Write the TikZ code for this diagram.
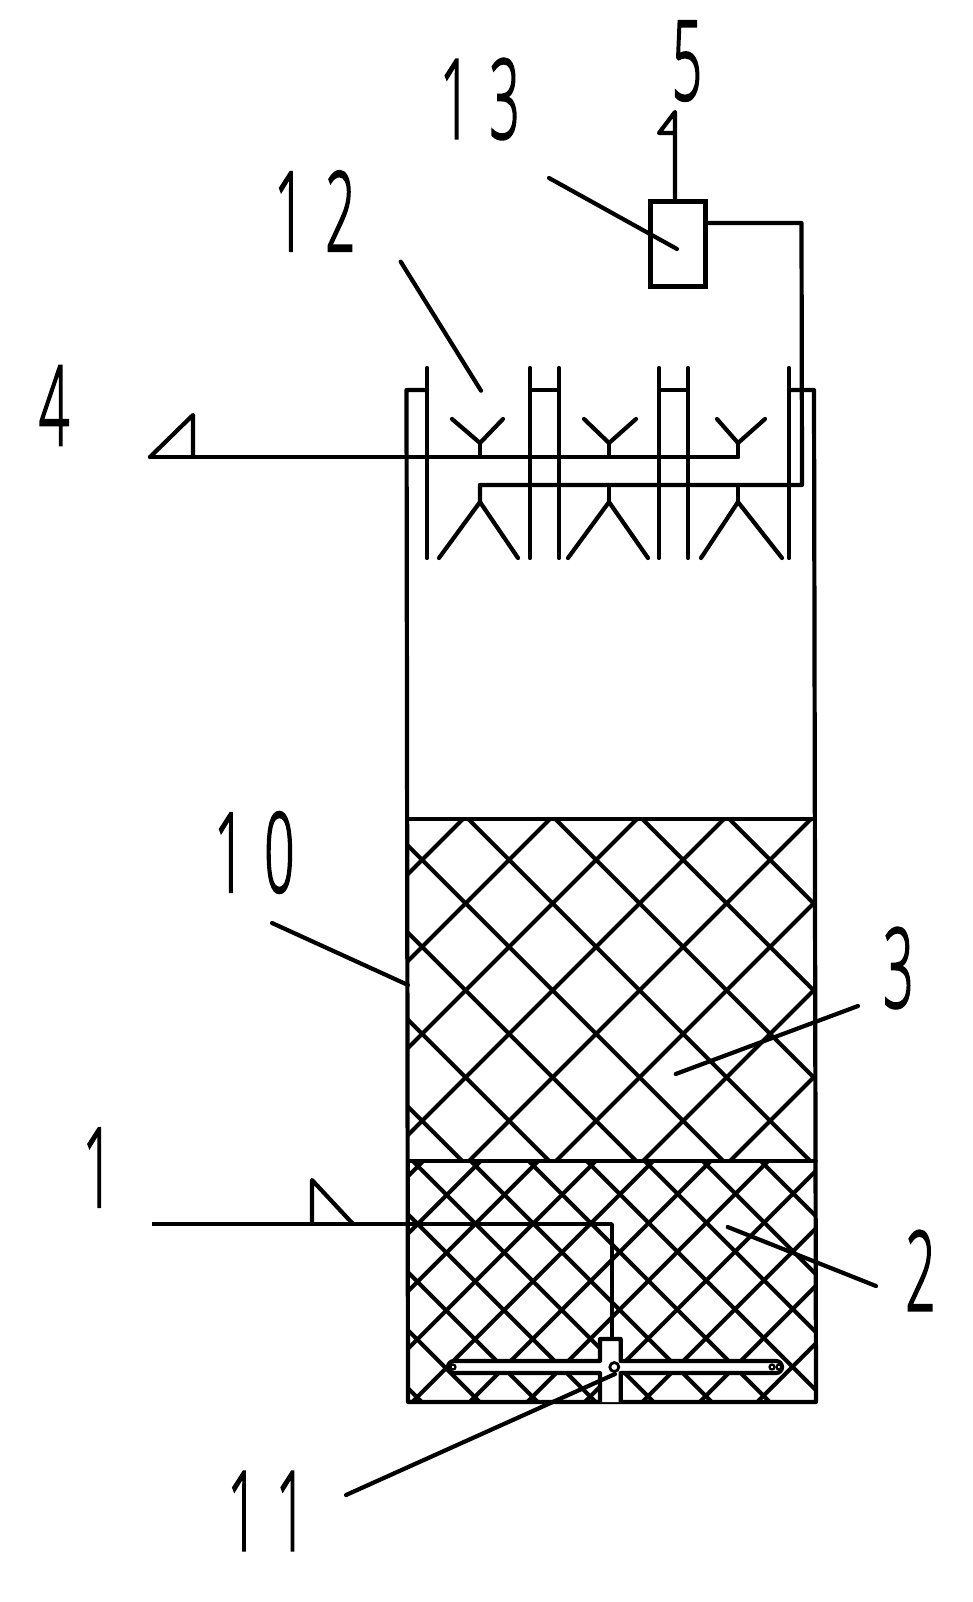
\documentclass[tikz,border=0pt]{standalone}
\usepackage{fontspec}
\newfontfamily\lab[RawFeature={embolden=2.5}]{Open Sans Light}
\begin{document}
\begin{tikzpicture}[x=1pt,y=-1pt,
  pipe/.style={line width=4.2pt,line join=round,line cap=round,black},
  thin pipe/.style={line width=3.6pt,line join=round,black},
  hatch/.style={line width=4pt,black},
  digit/.style={inner sep=0pt,outer sep=0pt,font=\lab\fontsize{110}{110}\selectfont,xscale=0.48,black},
  unit/.style={draw=black,line width=4.2pt,fill=white,minimum width=55pt,minimum height=85pt,inner sep=0pt}]
\useasboundingbox (0,0) rectangle (973,1602);
\fill[white] (0,0) rectangle (973,1602);
% packing
\begin{scope}
 \clip (407,819) rectangle (814.5,1161);
 \foreach \k in {-5,...,4}{\pgfmathsetmacro{\c}{-350.7+87*\k}
   \draw[hatch] (819+\c,819) -- (1161+\c,1161);}
 \foreach \k in {-2,...,7}{\pgfmathsetmacro{\c}{1369+87*\k}
   \draw[hatch] (\c-819,819) -- (\c-1161,1161);}
\end{scope}
\begin{scope}
 \clip (408,1161) rectangle (816,1402);
 \foreach \k in {-5,...,7}{\pgfmathsetmacro{\c}{-748.3+58*\k}
   \draw[hatch] (1161+\c,1161) -- (1402+\c,1402);}
 \foreach \k in {-2,...,10}{\pgfmathsetmacro{\c}{1641.7+57.5*\k}
   \draw[hatch] (\c-1161,1161) -- (\c-1402,1402);}
\end{scope}
% vessel
\draw[pipe] (427,390) -- (406.5,390) -- (408,1402) -- (816,1402) -- (814,390) -- (789,390);
\draw[pipe] (407,819) -- (814.5,819);
\draw[pipe] (408,1161) -- (815.5,1161);
% baffles
\foreach \x in {427,530,559,659,688,789}{\draw[pipe] (\x,368) -- (\x,558);}
\draw[pipe] (530,390) -- (559,390);
\draw[pipe] (659,390) -- (688,390);
% unit 13
\node[unit] (u13) at (678,244) {};
\coordinate (u13top) at (675,201.7);
\coordinate (u13flag) at (675,112);
\coordinate (u13r) at (705,223);
\draw[pipe] (u13top) -- (u13flag) -- (659,133) -- (675,133);
% spray pipe
\draw[pipe] (u13r) -- (801.5,223) -- (802,485) -- (480,485) -- (480,502);
\foreach \x/\l/\r in {480/439/518,609/568/648,738/701/782}{
  \draw[pipe] (\l,558) -- (\x,502) -- (\r,558);
  \draw[pipe] (\x,485) -- (\x,502);}
% collecting pipe
\draw[pipe] (150,457) -- (738,457);
\foreach \x/\l/\r in {480/452/503,609/584/636,738/717/765}{
  \draw[pipe] (\l,419) -- (\x,443) -- (\r,419);
  \draw[pipe] (\x,443) -- (\x,457);}
\draw[pipe] (150,457) -- (193,415) -- (193,457);
% inlet
\draw[thin pipe] (152,1224) -- (612,1224) -- (612,1340);
\draw[pipe] (312,1224) -- (312,1180) -- (353,1224);
% distributor
\draw[pipe,fill=white,line cap=butt] (600,1402) -- (600,1373) -- (454,1373) arc[start angle=90,end angle=270,radius=6] -- (600,1361) -- (600,1339) -- (620.7,1339) -- (620.7,1361) -- (776,1361) arc[start angle=270,end angle=450,radius=6] -- (620.7,1373) -- (620.7,1402);
\draw[line width=2.8pt] (614.3,1367) circle[radius=4.5];
\draw[line width=2.2pt] (453,1367) circle[radius=2.5];
\draw[line width=2.2pt] (772,1367) circle[radius=2.5];
\draw[line width=2.2pt] (779,1367) circle[radius=2.5];
% labels
\node[digit] (l5) at (687,61) {5};
\node[digit] (l13) at (480,99) {1\kern 40pt 3};
\node[digit] (l12) at (315,211) {1\kern 43pt 2};
\node[digit] (l4) at (54,405.5) {4};
\node[digit] (l1) at (98,1167.5) {1};
\node[digit] (l10) at (254.5,852.5) {1\kern 41pt 0};
\node[digit] (l3) at (898.5,968) {3};
\node[digit] (l2) at (920.5,1270.5) {2};
\node[digit] (l11) at (267,1511) {1\kern 38pt 1};
% leaders
\draw[pipe] (549,178) -- (677,249);
\draw[pipe] (400.7,261.7) -- (481,390.7);
\draw[pipe] (272,923) -- (408,985);
\draw[pipe] (858,1006) -- (675.7,1074);
\draw[pipe] (876,1286) -- (727.7,1227);
\draw[pipe] (346,1495) -- (615,1374);
\end{tikzpicture}
\end{document}
